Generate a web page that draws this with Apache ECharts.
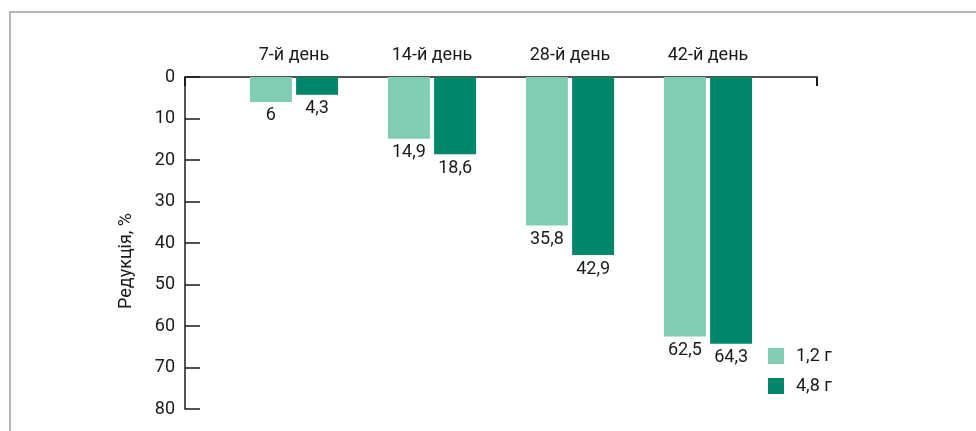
<!DOCTYPE html>
<html>
<head>
<meta charset="utf-8">
<script src="https://cdn.jsdelivr.net/npm/echarts@6/dist/echarts.min.js"></script>
<style>
  html, body { margin: 0; padding: 0; background: #fff; }
  #wrap { position: relative; width: 976px; height: 431px; overflow: hidden; }
  #frame { position: absolute; left: 9px; top: 11px; right: -4px; bottom: -4px;
           border-top: 2px solid #b4b4b4; border-left: 2px solid #b4b4b4; }
  #chart { position: absolute; left: 0; top: 0; width: 976px; height: 431px; }
</style>
</head>
<body>
<div id="wrap">
  <div id="frame"></div>
  <div id="chart"></div>
</div>
<script>
const days = ['7-й день', '14-й день', '28-й день', '42-й день']
const dose1 = [6, 14.9, 35.8, 62.5]
const dose2 = [4.3, 18.6, 42.9, 64.3]
const seriesNames = ['1,2 г', '4,8 г']
const yTicks = { min: 0, max: 80, step: 10 }

const font = 'Roboto, "Noto Sans", sans-serif'
const ink = '#1a1a1a'

const comma = (p) => String(p.value).replace('.', ',')

const barLabel = {
  show: true,
  position: 'bottom',
  distance: 5,
  color: ink,
  fontSize: 18,
  fontFamily: font,
  formatter: comma
}

const myChart = echarts.init(document.getElementById('chart'))
myChart.setOption({
  animation: false,
  grid: [
    { left: 185, right: 159, top: 77, bottom: 22 },
    { left: 225, right: 199, top: 77, bottom: 22 }
  ],
  legend: {
    orient: 'vertical',
    left: 763,
    top: 342,
    itemWidth: 16,
    itemHeight: 16,
    itemGap: 12,
    icon: 'rect',
    data: seriesNames,
    textStyle: { color: ink, fontSize: 18, fontFamily: font, padding: [0, 0, 0, 7] }
  },
  xAxis: [
    {
      gridIndex: 0,
      type: 'value',
      position: 'top',
      min: 0,
      max: 1,
      interval: 1,
      axisLine: { show: true, onZero: false, lineStyle: { color: ink, width: 1.5 } },
      axisTick: { show: true, inside: true, length: 9, lineStyle: { color: ink, width: 2 } },
      axisLabel: { show: false },
      splitLine: { show: false }
    },
    {
      gridIndex: 1,
      type: 'category',
      position: 'top',
      data: days,
      axisLine: { show: false },
      axisTick: { show: false },
      axisLabel: { color: ink, fontSize: 18, fontFamily: font, margin: 13 }
    }
  ],
  yAxis: [
    {
      gridIndex: 0,
      type: 'value',
      inverse: true,
      min: yTicks.min,
      max: yTicks.max,
      interval: yTicks.step,
      name: 'Редукція, %',
      nameLocation: 'middle',
      nameRotate: 90,
      nameGap: 50,
      nameTextStyle: { color: ink, fontSize: 18, fontFamily: font, padding: [0, 36, 0, 0] },
      axisLine: { show: true, lineStyle: { color: ink, width: 1.5 } },
      axisTick: { show: true, inside: true, length: 15, lineStyle: { color: ink, width: 1.5 } },
      axisLabel: { color: ink, fontSize: 18, fontFamily: font, margin: 10 },
      splitLine: { show: false }
    },
    {
      gridIndex: 1,
      type: 'value',
      inverse: true,
      min: yTicks.min,
      max: yTicks.max,
      show: false,
      splitLine: { show: false }
    }
  ],
  series: [
    {
      name: seriesNames[0],
      type: 'bar',
      xAxisIndex: 1,
      yAxisIndex: 1,
      data: dose1,
      barWidth: 42,
      barGap: '10%',
      itemStyle: { color: '#80cdb6' },
      label: barLabel
    },
    {
      name: seriesNames[1],
      type: 'bar',
      xAxisIndex: 1,
      yAxisIndex: 1,
      data: dose2,
      barWidth: 42,
      barGap: '10%',
      itemStyle: { color: '#00876a' },
      label: barLabel
    }
  ]
})
</script>
</body>
</html>
